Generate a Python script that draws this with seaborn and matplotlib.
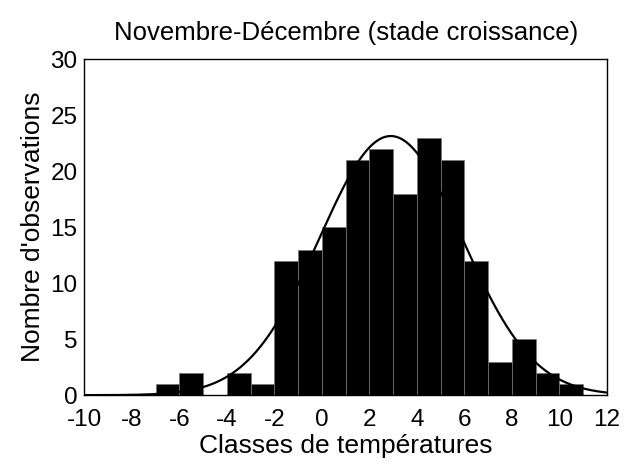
import numpy as np
import pandas as pd
import matplotlib
matplotlib.use('Agg')
import matplotlib.pyplot as plt
import seaborn as sns

# bin centres (classes of 1 degree) and counts
classes = [-6.5, -5.5, -4.5, -3.5, -2.5, -1.5, -0.5, 0.5, 1.5, 2.5, 3.5, 4.5, 5.5, 6.5, 7.5, 8.5, 9.5, 10.5]
counts = [1, 2, 0, 2, 1, 12, 13, 15, 21, 22, 18, 23, 21, 12, 3, 5, 2, 1]
bin_edges = list(range(-7, 12))

# fitted normal curve parameters (estimated)
fit_mean = 2.9
fit_sd = 3.0
xticks = list(range(-10, 13, 2))
yticks = list(range(0, 31, 5))

sns.set_style('white')
plt.rcParams['font.family'] = ['Liberation Sans', 'DejaVu Sans']
plt.rcParams['axes.unicode_minus'] = False
plt.rcParams['text.color'] = 'black'
plt.rcParams['axes.labelcolor'] = 'black'
plt.rcParams['xtick.color'] = 'black'
plt.rcParams['ytick.color'] = 'black'

df = pd.DataFrame({'classe': classes, 'n': counts})

fig, ax = plt.subplots(figsize=(6.25, 4.66), dpi=100)
sns.histplot(data=df, x='classe', weights='n', bins=bin_edges, color='black',
             edgecolor='#777777', linewidth=0.5, alpha=1, ax=ax)

total = sum(counts)
xs = np.linspace(-10, 12, 400)
ys = total / (fit_sd * np.sqrt(2 * np.pi)) * np.exp(-0.5 * ((xs - fit_mean) / fit_sd) ** 2)
sns.lineplot(x=xs, y=ys, color='black', linewidth=1.6, ax=ax)

ax.set_xlim(-10, 12)
ax.set_ylim(0, 30)
ax.set_xticks(xticks)
ax.set_yticks(yticks)
ax.tick_params(axis='both', direction='in', length=4, labelsize=17.5, width=0.8)
ax.tick_params(axis='x', pad=10)
ax.tick_params(axis='y', pad=5)
for s in ax.spines.values():
    s.set_color('black')
    s.set_linewidth(1)
ax.set_title('Novembre-Décembre (stade croissance)', fontsize=18.5, pad=14)
ax.set_xlabel('Classes de températures', fontsize=19, labelpad=2)
ax.set_ylabel("Nombre d'observations", fontsize=19, labelpad=4)

plt.subplots_adjust(left=0.135, right=0.971, top=0.873, bottom=0.152)
plt.savefig('out.png', dpi=100)
